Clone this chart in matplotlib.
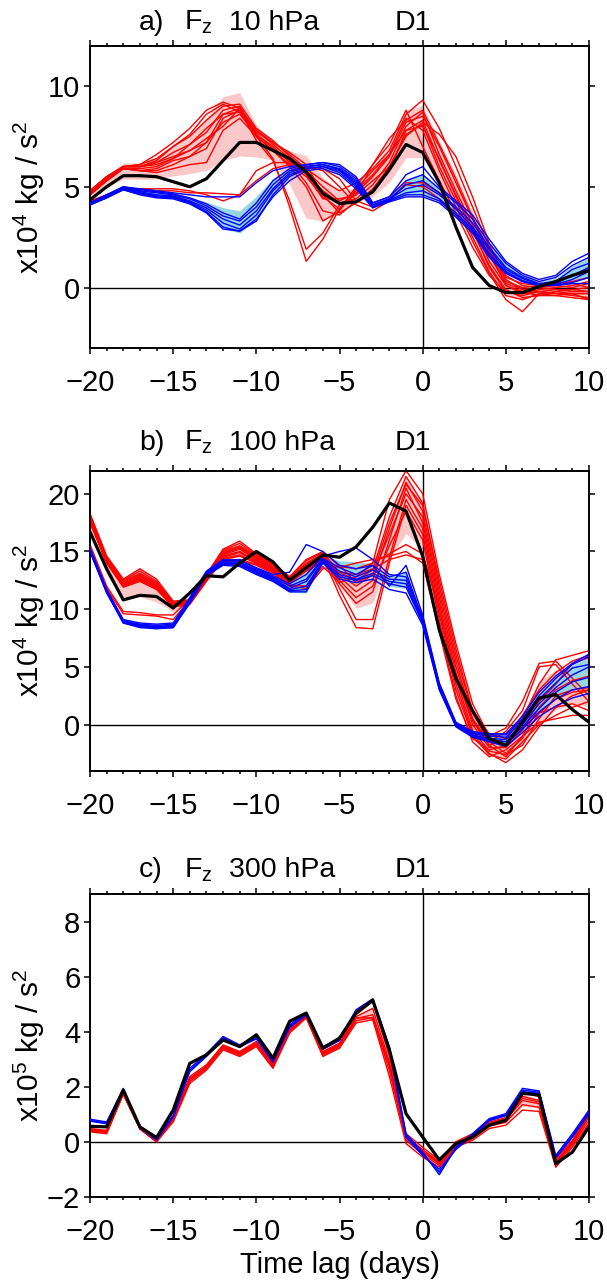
import numpy as np
import matplotlib
matplotlib.use("Agg")
import matplotlib.pyplot as plt
from matplotlib.ticker import MultipleLocator

plt.rcParams['font.family'] = ['Liberation Sans', 'DejaVu Sans']
plt.rcParams['mathtext.default'] = 'regular'
plt.rcParams['axes.unicode_minus'] = True

days = list(range(-20, 11))

# ---------------- panel a: Fz 10 hPa ----------------
black_a = [4.35, 5.0, 5.55, 5.55, 5.5, 5.25, 5.0, 5.4, 6.3, 7.2, 7.2, 6.8, 6.4, 5.75, 4.67, 4.17,
           4.25, 4.75, 5.85, 7.1, 6.7, 5.2, 3.0, 1.0, 0.1, -0.25, -0.25, 0.05, 0.3, 0.6, 0.85]
red_a = [
    [4.8, 5.5, 6.0, 6.1, 6.6, 7.2, 7.9, 8.8, 9.2, 8.9, 7.8, 7.2, 6.6, 5.9, 5.3, 4.8, 5.2, 5.9, 6.8, 8.6, 9.3, 7.9, 6.0, 4.0, 2.0, 0.5, 0.2, 0.1, 0.2, 0.3, 0.5],
    [4.7, 5.4, 6.0, 6.0, 6.3, 7.0, 7.5, 8.3, 9.0, 9.1, 7.9, 7.3, 6.5, 5.8, 5.0, 4.3, 4.7, 5.5, 6.5, 8.2, 8.5, 7.0, 5.2, 3.4, 1.6, 0.2, -0.1, 0.0, 0.1, 0.0, 0.2],
    [4.8, 5.5, 6.0, 6.0, 6.2, 6.7, 7.1, 7.7, 8.8, 9.0, 7.6, 6.9, 6.3, 5.6, 4.8, 4.2, 4.4, 5.1, 6.2, 8.0, 8.7, 6.6, 4.8, 3.1, 1.3, 0.1, -0.3, -0.2, -0.1, -0.2, -0.2],
    [4.7, 5.4, 5.9, 5.9, 6.0, 6.4, 6.8, 7.2, 8.6, 8.9, 7.5, 6.4, 4.0, 1.3, 2.4, 3.9, 4.8, 5.6, 6.6, 7.8, 8.3, 6.3, 4.6, 2.9, 1.0, -0.2, -0.4, -0.2, -0.3, -0.4, -0.5],
    [4.6, 5.3, 5.9, 5.8, 5.9, 6.3, 6.5, 6.9, 8.4, 8.8, 7.3, 6.3, 4.3, 1.9, 2.7, 4.1, 4.6, 5.3, 6.0, 7.6, 8.1, 6.0, 4.3, 2.5, 0.8, -0.4, -0.6, -0.3, -0.2, -0.3, -0.3],
    [4.6, 5.3, 5.9, 5.8, 5.8, 6.1, 6.5, 7.2, 8.2, 8.6, 7.6, 7.0, 6.2, 5.2, 3.8, 3.6, 4.3, 4.8, 5.8, 7.8, 8.0, 6.4, 4.5, 2.8, 1.1, -0.1, -0.5, -0.4, -0.2, -0.1, 0.0],
    [4.6, 5.3, 5.9, 5.8, 5.7, 5.9, 6.1, 6.2, 7.8, 8.4, 7.5, 6.8, 6.0, 5.0, 3.3, 3.8, 4.9, 5.8, 6.6, 8.4, 7.8, 5.8, 4.0, 2.3, 0.7, -0.6, -1.2, -0.3, -0.4, -0.3, -0.6],
    [4.7, 5.4, 6.0, 6.0, 6.2, 6.5, 6.8, 7.4, 8.0, 8.9, 7.8, 7.1, 6.4, 5.6, 4.4, 4.4, 4.6, 6.1, 7.1, 8.8, 7.0, 5.3, 3.7, 2.0, 0.6, -0.2, -0.3, -0.1, 0.0, 0.1, 0.3],
    [4.3, 4.6, 4.9, 4.9, 4.9, 4.9, 4.8, 4.6, 4.3, 4.6, 5.3, 5.9, 6.1, 6.0, 5.9, 5.4, 4.3, 4.0, 4.4, 5.1, 5.0, 4.4, 3.5, 2.7, 1.6, 0.4, -0.1, -0.2, -0.3, -0.3, -0.3],
    [4.2, 4.6, 4.9, 4.9, 4.8, 4.8, 4.7, 4.7, 4.65, 4.6, 5.8, 6.2, 6.2, 6.0, 5.8, 5.0, 4.1, 3.8, 4.3, 5.2, 5.2, 4.7, 3.9, 3.0, 1.8, 0.6, 0.1, 0.0, -0.1, -0.1, -0.2],
    [4.7, 5.4, 6.0, 6.0, 6.1, 6.4, 7.1, 7.9, 8.6, 8.7, 7.7, 7.2, 6.7, 6.1, 4.6, 3.7, 4.2, 4.9, 6.0, 7.5, 8.2, 7.6, 6.5, 4.5, 2.2, 0.3, 0.0, 0.1, 0.1, 0.2, 0.0],
    [4.8, 5.5, 6.0, 6.1, 6.4, 7.0, 7.6, 8.6, 9.1, 8.7, 7.5, 6.8, 6.1, 5.5, 4.5, 3.9, 5.0, 6.1, 7.4, 8.3, 8.8, 7.1, 5.4, 3.5, 1.8, 0.1, -0.2, -0.4, -0.4, -0.5, -0.6],
]
blue_a = [
    [4.2, 4.6, 5.0, 4.9, 4.8, 4.7, 4.6, 4.5, 4.5, 4.5, 5.2, 5.8, 6.0, 6.1, 6.2, 6.1, 5.5, 4.2, 4.5, 5.6, 6.0, 5.0, 4.3, 3.6, 2.4, 1.3, 0.7, 0.4, 0.6, 1.3, 1.7],
    [4.2, 4.6, 5.0, 4.85, 4.75, 4.65, 4.45, 4.15, 3.7, 3.4, 4.2, 5.3, 5.9, 6.1, 6.2, 6.0, 5.4, 4.2, 4.5, 5.3, 5.6, 4.9, 4.2, 3.4, 2.2, 1.2, 0.6, 0.3, 0.5, 1.1, 1.5],
    [4.2, 4.55, 4.95, 4.8, 4.7, 4.6, 4.4, 4.05, 3.55, 3.3, 4.0, 5.1, 5.8, 6.0, 6.1, 5.9, 5.3, 4.1, 4.4, 5.1, 5.3, 4.7, 4.0, 3.2, 2.0, 1.0, 0.5, 0.2, 0.3, 0.9, 1.2],
    [4.15, 4.5, 4.9, 4.75, 4.6, 4.55, 4.3, 3.95, 3.4, 3.1, 3.8, 4.9, 5.7, 6.0, 6.1, 5.85, 5.2, 4.1, 4.4, 4.9, 5.1, 4.6, 3.9, 3.0, 1.9, 0.9, 0.45, 0.15, 0.2, 0.6, 1.0],
    [4.15, 4.5, 4.9, 4.7, 4.55, 4.5, 4.25, 3.85, 3.2, 2.9, 3.6, 4.8, 5.6, 5.9, 6.0, 5.8, 5.1, 4.0, 4.35, 4.7, 4.8, 4.4, 3.7, 2.9, 1.7, 0.8, 0.35, 0.12, 0.15, 0.4, 0.8],
    [4.1, 4.45, 4.85, 4.65, 4.5, 4.45, 4.2, 3.75, 3.0, 2.8, 3.3, 4.6, 5.5, 5.9, 6.0, 5.7, 5.0, 4.0, 4.3, 4.6, 4.6, 4.3, 3.6, 2.8, 1.6, 0.75, 0.3, 0.1, 0.12, 0.25, 0.5],
    [4.1, 4.45, 4.85, 4.6, 4.45, 4.4, 4.15, 3.7, 2.9, 2.8, 3.4, 4.5, 5.3, 5.8, 5.9, 5.6, 4.9, 3.95, 4.25, 4.5, 4.5, 4.2, 3.5, 2.7, 1.5, 0.7, 0.3, 0.1, 0.1, 0.2, 0.2],
]

# ---------------- panel b: Fz 100 hPa ----------------
black_b = [16.7, 13.5, 10.8, 11.2, 11.1, 10.1, 11.4, 12.9, 12.8, 14.0, 15.0, 14.1, 12.5, 13.6, 14.7, 14.5,
           15.4, 17.1, 19.2, 18.5, 14.6, 8.2, 4.0, 1.2, -1.2, -1.8, 0.2, 2.3, 2.6, 1.3, 0.2]
red_b = [
    [18.3, 14.6, 12.6, 13.5, 12.6, 10.7, 10.8, 13.0, 15.2, 15.9, 14.8, 14.0, 12.8, 14.3, 15.0, 13.7, 13.5, 14.0, 19.5, 22.0, 20.0, 13.0, 7.0, 1.8, -1.0, -0.3, 2.0, 5.3, 5.5, 4.0, 2.5],
    [18.1, 14.5, 12.5, 13.3, 12.4, 10.6, 10.8, 12.9, 15.1, 15.7, 14.7, 13.9, 12.8, 14.2, 14.9, 13.2, 12.5, 13.4, 18.0, 21.5, 19.2, 12.0, 6.0, 1.0, -1.5, -0.6, 1.2, 5.0, 5.2, 3.5, 2.0],
    [18.0, 14.4, 12.4, 13.1, 12.3, 10.5, 10.7, 12.8, 15.0, 15.5, 14.6, 13.8, 12.7, 14.0, 14.8, 12.8, 11.5, 12.5, 17.0, 21.0, 18.5, 11.5, 5.5, 0.5, -1.8, -1.2, 0.5, 3.5, 5.6, 6.0, 6.4],
    [17.9, 14.4, 12.3, 13.0, 12.2, 10.5, 10.7, 12.8, 14.9, 15.4, 14.5, 13.7, 12.6, 13.9, 14.7, 12.2, 10.5, 11.5, 16.0, 20.5, 17.5, 10.5, 4.5, 0.0, -2.0, -2.0, -0.5, 2.0, 3.5, 5.3, 5.8],
    [17.8, 14.3, 12.2, 12.9, 12.1, 10.4, 10.6, 12.7, 14.8, 15.3, 14.4, 13.6, 12.6, 13.8, 14.6, 11.8, 9.1, 9.1, 14.5, 19.5, 17.0, 10.0, 4.0, -0.5, -2.3, -2.6, -1.8, 0.5, 2.5, 3.0, 3.2],
    [17.7, 14.2, 12.1, 12.8, 12.0, 10.4, 10.6, 12.6, 14.7, 15.2, 14.3, 13.5, 12.5, 13.7, 14.5, 11.2, 8.4, 8.3, 14.0, 19.0, 16.5, 9.5, 3.5, -0.8, -2.5, -3.3, -2.2, -0.2, 1.5, 2.5, 3.0],
    [17.7, 14.2, 12.1, 12.7, 11.9, 10.3, 10.5, 12.6, 14.6, 15.0, 14.2, 13.5, 12.4, 13.6, 14.4, 13.0, 12.0, 13.0, 16.5, 20.0, 18.0, 11.0, 5.0, 0.3, -1.8, -2.8, -1.0, 1.5, 3.0, 3.8, 4.2],
    [17.6, 14.1, 12.0, 12.6, 11.8, 10.3, 10.5, 12.5, 14.5, 14.9, 14.1, 13.4, 12.4, 13.5, 14.3, 12.5, 11.0, 12.0, 15.5, 18.5, 16.0, 9.0, 3.0, -1.0, -2.6, -3.0, -1.5, 0.0, 0.8, 1.5, 2.0],
    [17.6, 14.0, 12.0, 12.5, 11.8, 10.2, 10.5, 12.5, 14.4, 14.7, 14.0, 13.3, 12.3, 13.4, 14.2, 13.2, 13.0, 13.5, 14.3, 14.7, 14.3, 8.5, 2.5, -1.5, -2.8, -2.2, -1.0, 0.2, 0.5, 0.8, 0.8],
    [17.5, 14.0, 11.9, 12.4, 11.7, 10.2, 10.4, 12.4, 14.3, 14.6, 14.0, 13.3, 12.3, 13.3, 14.1, 13.6, 14.0, 14.3, 14.6, 15.0, 14.0, 8.0, 2.2, -1.2, -2.2, -1.8, -0.3, 1.0, 1.5, 1.8, 1.2],
    [15.6, 12.0, 9.8, 9.7, 9.5, 9.5, 10.9, 12.8, 14.2, 14.3, 13.9, 13.2, 12.1, 12.0, 13.7, 12.3, 12.8, 14.0, 14.8, 15.6, 14.8, 10.0, 4.0, 0.5, -1.5, -2.5, -1.2, 1.0, 2.2, 2.8, 3.0],
    [15.3, 11.8, 9.6, 9.5, 9.4, 9.1, 10.8, 12.7, 14.1, 14.2, 13.8, 13.1, 12.0, 11.8, 13.5, 13.8, 12.3, 13.0, 17.5, 20.8, 19.0, 12.5, 6.5, 1.2, -0.8, -1.2, 0.8, 3.0, 4.5, 5.5, 6.0],
]
blue_b = [
    [15.3, 11.7, 9.1, 8.8, 8.7, 8.8, 11.0, 13.3, 14.3, 14.2, 13.6, 13.0, 13.2, 15.6, 15.0, 13.8, 13.5, 13.8, 12.0, 13.8, 9.5, 3.6, 0.2, -0.6, -0.8, -0.8, 0.7, 2.8, 4.2, 5.3, 6.1],
    [15.2, 11.7, 9.0, 8.7, 8.6, 8.7, 10.9, 13.2, 14.2, 14.3, 13.5, 12.9, 12.2, 13.0, 14.6, 15.0, 15.3, 14.3, 13.0, 12.8, 9.3, 3.5, 0.1, -0.7, -0.9, -0.9, 0.5, 2.5, 4.0, 5.2, 5.9],
    [15.2, 11.6, 9.0, 8.6, 8.5, 8.6, 10.8, 13.1, 14.1, 14.1, 13.4, 12.8, 12.0, 12.6, 14.4, 13.6, 13.0, 13.8, 12.8, 13.2, 9.1, 3.4, 0.0, -0.8, -1.0, -1.1, 0.3, 2.2, 3.6, 4.9, 5.2],
    [15.1, 11.6, 8.9, 8.6, 8.5, 8.5, 10.7, 13.0, 14.0, 14.0, 13.3, 12.7, 11.8, 12.4, 14.3, 13.3, 12.8, 13.4, 12.6, 12.5, 9.0, 3.3, 0.0, -0.9, -1.2, -1.3, 0.0, 1.8, 3.2, 4.3, 5.0],
    [15.1, 11.5, 8.9, 8.5, 8.4, 8.5, 10.7, 13.0, 14.0, 13.9, 13.2, 12.6, 11.7, 12.0, 14.2, 13.0, 12.6, 13.1, 12.4, 12.2, 8.9, 3.2, -0.1, -1.0, -1.3, -1.5, -0.2, 1.4, 2.8, 3.7, 4.1],
    [15.0, 11.5, 8.8, 8.5, 8.4, 8.4, 10.6, 12.9, 13.9, 13.8, 13.1, 12.5, 11.6, 11.7, 14.1, 12.8, 12.5, 12.9, 12.2, 11.9, 8.8, 3.1, -0.1, -1.0, -1.4, -1.7, -0.4, 1.1, 2.2, 3.0, 3.3],
    [15.0, 11.4, 8.8, 8.4, 8.3, 8.4, 10.5, 12.9, 13.8, 13.7, 13.0, 12.4, 11.5, 11.5, 14.0, 12.6, 12.3, 12.6, 11.7, 11.4, 8.6, 3.0, -0.2, -1.1, -1.5, -1.9, -0.7, 0.7, 1.6, 2.3, 2.7],
]

# ---------------- panel c: Fz 300 hPa ----------------
black_c = [0.56, 0.54, 1.88, 0.54, 0.15, 1.15, 2.85, 3.16, 3.7, 3.46, 3.89, 3.04, 4.38, 4.68, 3.4, 3.77,
           4.68, 5.15, 3.34, 1.02, 0.17, -0.66, -0.07, 0.17, 0.6, 0.78, 1.76, 1.7, -0.8, -0.38, 0.54]
red_c = [
    [0.48, 0.41, 1.80, 0.50, 0.02, 0.84, 2.37, 2.80, 3.52, 3.28, 3.65, 2.85, 4.13, 4.62, 3.28, 3.59, 4.62, 5.10, 3.10, 0.29, -0.20, -0.68, 0.00, 0.29, 0.78, 0.96, 1.82, 1.63, -0.62, 0.05, 1.15],
    [0.45, 0.38, 1.78, 0.49, 0.01, 0.81, 2.31, 2.75, 3.48, 3.24, 3.60, 2.80, 4.09, 4.59, 3.24, 3.54, 4.55, 4.85, 2.90, 0.20, -0.29, -0.74, -0.05, 0.23, 0.71, 0.88, 1.65, 1.50, -0.70, 0.00, 1.03],
    [0.42, 0.35, 1.76, 0.48, 0.00, 0.78, 2.25, 2.70, 3.43, 3.19, 3.55, 2.76, 4.05, 4.56, 3.19, 3.49, 4.48, 4.62, 2.74, 0.12, -0.38, -0.80, -0.10, 0.17, 0.64, 0.80, 1.50, 1.38, -0.78, -0.06, 0.90],
    [0.39, 0.32, 1.74, 0.47, 0.00, 0.75, 2.19, 2.65, 3.39, 3.14, 3.51, 2.72, 4.01, 4.53, 3.15, 3.45, 4.40, 4.52, 2.58, 0.05, -0.46, -0.86, -0.14, 0.11, 0.57, 0.71, 1.35, 1.25, -0.85, -0.12, 0.78],
    [0.36, 0.29, 1.72, 0.46, 0.00, 0.72, 2.12, 2.60, 3.34, 3.10, 3.46, 2.67, 3.95, 4.50, 3.10, 3.40, 4.32, 4.44, 2.37, -0.07, -0.56, -0.93, -0.20, 0.05, 0.48, 0.60, 1.15, 1.10, -0.93, -0.20, 0.66],
    [0.44, 0.36, 1.77, 0.48, 0.01, 0.80, 2.28, 2.72, 3.45, 3.21, 3.57, 2.78, 4.07, 4.57, 3.21, 3.51, 4.51, 4.50, 2.80, 0.15, -0.35, -0.78, -0.08, 0.20, 0.67, 0.84, 1.58, 1.44, -0.74, -0.03, 0.96],
]
blue_c = [
    [0.82, 0.72, 1.94, 0.54, 0.10, 0.96, 2.67, 3.20, 3.83, 3.52, 3.83, 2.98, 4.25, 4.70, 3.46, 3.77, 4.80, 5.20, 3.46, 0.29, -0.38, -1.20, -0.20, 0.29, 0.84, 1.02, 1.94, 1.85, -0.50, 0.29, 1.15],
    [0.78, 0.68, 1.90, 0.52, 0.08, 0.92, 2.60, 3.15, 3.78, 3.48, 3.78, 2.94, 4.20, 4.65, 3.40, 3.72, 4.75, 5.15, 3.40, 0.22, -0.45, -1.10, -0.25, 0.25, 0.80, 0.98, 1.88, 1.80, -0.55, 0.22, 1.08],
    [0.75, 0.65, 1.88, 0.50, 0.06, 0.90, 2.55, 3.10, 3.74, 3.45, 3.74, 2.90, 4.16, 4.60, 3.36, 3.68, 4.70, 5.10, 3.35, 0.16, -0.50, -1.00, -0.28, 0.22, 0.76, 0.95, 1.82, 1.76, -0.60, 0.16, 1.02],
]

panel_tags = ['a)', 'b)', 'c)']
levels = ['10 hPa', '100 hPa', '300 hPa']
ylabels = ['x10$^4$ kg / s$^2$', 'x10$^4$ kg / s$^2$', 'x10$^5$ kg / s$^2$']
ylims = [(-3, 12), (-4, 22), (-2, 9)]
yticks = [[0, 5, 10], [0, 5, 10, 15, 20], [-2, 0, 2, 4, 6, 8]]

panels = [(black_a, red_a, blue_a), (black_b, red_b, blue_b), (black_c, red_c, blue_c)]
# axes boxes in figure pixels (top, bottom)
boxes = [(45.7, 348.0), (470.7, 770.7), (894.3, 1196.7)]
title_base = [30, 450, 877]

W, H = 607, 1282
fig = plt.figure(figsize=(W / 100, H / 100), dpi=100)

pink = '#fac8c8'
cyan = '#95d6e0'

for i in range(3):
    top, bot = boxes[i]
    ax = fig.add_axes([90 / W, 1 - bot / H, (589 - 90) / W, (bot - top) / H])
    black, reds, blues = panels[i]
    r = np.array(reds)
    b = np.array(blues)
    ax.fill_between(days, r.mean(0) - r.std(0), r.mean(0) + r.std(0), color=pink, lw=0, zorder=1)
    ax.fill_between(days, b.mean(0) - b.std(0), b.mean(0) + b.std(0), color=cyan, lw=0, zorder=1)
    ax.axhline(0, color='black', lw=1.0, zorder=1.5)
    ax.axvline(0, color='black', lw=1.0, zorder=1.5)
    for row in reds:
        ax.plot(days, row, color='#ff0000', lw=1.0, zorder=2)
    for row in blues:
        ax.plot(days, row, color='#0000ff', lw=1.0, zorder=3)
    ax.plot(days, black, color='black', lw=2.3, zorder=4)

    ax.set_xlim(-20, 10)
    ax.set_ylim(*ylims[i])
    ax.set_xticks([-20, -15, -10, -5, 0, 5, 10])
    ax.xaxis.set_minor_locator(MultipleLocator(1))
    ax.set_yticks(yticks[i])
    ax.tick_params(which='both', direction='out', top=True, right=True, width=1.1, labelsize=21, pad=3)
    ax.tick_params(axis='x', which='major', pad=11)
    ax.tick_params(which='major', length=4)
    ax.tick_params(which='minor', length=2.2)
    for s in ax.spines.values():
        s.set_linewidth(1.4)

    yb = 1 - title_base[i] / H
    fig.text(139 / W, yb, panel_tags[i], fontsize=20.5, ha='left', va='baseline')
    fig.text(184 / W, yb, 'F$_z$', fontsize=20.5, ha='left', va='baseline')
    fig.text(229 / W, yb, levels[i], fontsize=20.5, ha='left', va='baseline')
    fig.text(395 / W, yb, 'D1', fontsize=20.5, ha='left', va='baseline')
    fig.text(29 / W, 1 - (top + bot) / 2 / H, ylabels[i], fontsize=21.5, rotation=90,
             ha='center', va='center')

fig.text(340 / W, 1 - 1265 / H, 'Time lag (days)', fontsize=21, ha='center', va='center')

fig.savefig('out.png', dpi=100)
